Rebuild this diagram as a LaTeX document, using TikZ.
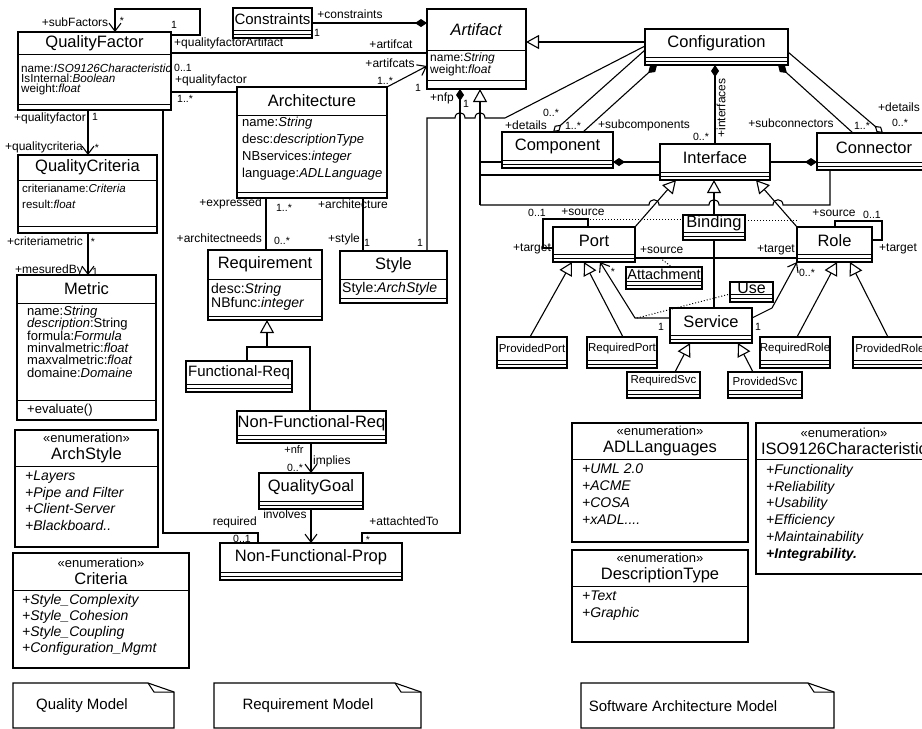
\documentclass[tikz,border=0pt]{standalone}
\usepackage{fontspec}
\setmainfont{Liberation Sans}
\usetikzlibrary{arrows.meta}

\newcommand{\fsl}[2]{\fontsize{#1}{#2}\selectfont}
% class box: title and two empty compartments
\newcommand{\plaincls}[7]{%
  \node[box,anchor=north west,minimum width={#4-#2},minimum height={#5-#3}] (#1) at (#2,#3) {};
  \draw[line width=0.8pt] ({#2},{#5-8}) -- ({#4},{#5-8});
  \draw[line width=0.8pt] ({#2},{#5-4}) -- ({#4},{#5-4});
  \node[font=\fsl{#6}{#6},inner sep=0pt] (#1-t) at ({(#2+#4)/2},{(#3+#5-8)/2}) {#7};
}
% class box: title, attributes, operations
\newcommand{\attrcls}[8]{%
  \node[box,anchor=north west,minimum width={#4-#2},minimum height={#5-#3}] (#1) at (#2,#3) {};
  \draw[line width=0.9pt] ({#2},{#6}) -- ({#4},{#6});
  \draw[line width=0.9pt] ({#2},{#7}) -- ({#4},{#7});
  \node[ttl] (#1-t) at ({(#2+#4)/2},{(#3+#6)/2}) {#8};
}
\newcommand{\enumttl}[1]{{\fsl{13}{17}«enumeration»}\\#1}

\begin{document}
\begin{tikzpicture}[x=1pt,y=-1pt,
  box/.style={draw,fill=white,line width=1.1pt,inner sep=0pt,outer sep=0pt},
  ttl/.style={font=\fsl{16.5}{17},align=center,inner sep=0pt},
  attr/.style={anchor=north west,align=left,inner sep=0pt},
  lbl/.style={font=\fsl{12}{12},inner sep=0pt},
  mult/.style={font=\fsl{10.5}{10.5},inner sep=0pt},
  assoc/.style={line width=1.1pt},
  nav/.style={assoc,-{Straight Barb[length=8pt,width=12pt]}},
  gen/.style={assoc,-{Triangle[open,length=13pt,width=14pt]}},
  compo/.style={assoc,{Diamond[length=12pt,width=8pt]}-},
  aggr/.style={assoc,{Diamond[open,length=11pt,width=7pt]}-},
  dots/.style={dotted,line width=1pt},
  note/.style={line width=1.1pt,fill=white}]
\useasboundingbox (0,0) rectangle (922,729);
\clip (0,0) rectangle (922,729);

% quality model
\attrcls{qf}{18}{32}{171}{110}{54}{104}{QualityFactor}
\node[attr,font=\fsl{11.7}{10}] (qf-a) at (21,64) {name:\textit{ISO9126Characteristic}\\IsInternal:\textit{Boolean}\\weight:\textit{float}};
\attrcls{qc}{18}{155}{157}{233}{180}{226}{QualityCriteria}
\node[attr,font=\fsl{11.5}{16}] (qc-a) at (22,184) {criterianame:\textit{Criteria}\\result:\textit{float}};
\attrcls{metric}{17}{275}{156}{420}{303}{400}{Metric}
\node[attr,font=\fsl{13}{12.3}] (metric-a) at (27,306) {name:\textit{String}\\\textit{description}:String\\formula:\textit{Formula}\\minvalmetric:\textit{float}\\maxvalmetric:\textit{float}\\domaine:\textit{Domaine}};
\node[attr,font=\fsl{13}{13}] (metric-o) at (27,404) {+evaluate()};
\attrcls{archstyle}{15}{430}{158}{547}{466}{547}{\enumttl{ArchStyle}}
\node[attr,font=\fsl{14}{16.5}\itshape] (archstyle-a) at (25,471) {+Layers\\+Pipe and Filter\\+Client-Server\\+Blackboard..};
\attrcls{criteria}{13}{553}{189}{668}{590}{668}{\enumttl{Criteria}}
\node[attr,font=\fsl{14}{16}\itshape] (criteria-a) at (22,594) {+Style\_Complexity\\+Style\_Cohesion\\+Style\_Coupling\\+Configuration\_Mgmt};

% requirement model
\plaincls{constr}{233}{8}{312}{38}{15}{Constraints}
\attrcls{artifact}{427}{9}{526}{89}{50}{80}{\textit{Artifact}}
\node[attr,font=\fsl{12}{11.5}] (artifact-a) at (430,53) {name:\textit{String}\\weight:\textit{float}};
\attrcls{arch}{237}{87}{387}{198}{115}{192}{Architecture}
\node[attr,font=\fsl{13}{17}] (arch-a) at (242,117) {name:\textit{String}\\desc:\textit{descriptionType}\\NBservices:\textit{integer}\\language:\textit{ADLLanguage}};
\attrcls{req}{208}{250}{322}{320}{279}{316}{Requirement}
\node[attr,font=\fsl{14}{13}] (req-a) at (211,283) {desc:\textit{String}\\NBfunc:\textit{integer}};
\attrcls{style}{340}{251}{447}{303}{279}{298}{Style}
\node[attr,font=\fsl{14}{14}] (style-a) at (342,282) {Style:\textit{ArchStyle}};
\plaincls{freq}{186}{361}{292}{392}{15}{Functional-Req}
\plaincls{nfreq}{237}{411}{386}{443}{16.5}{Non-Functional-Req}
\plaincls{qgoal}{259}{473}{363}{509}{16.5}{QualityGoal}
\plaincls{nfprop}{220}{543}{402}{580}{16.5}{Non-Functional-Prop}

% architecture model
\plaincls{config}{645}{29}{788}{65}{16.5}{Configuration}
\plaincls{comp}{502}{132}{613}{168}{16.5}{Component}
\plaincls{iface}{660}{144}{770}{180}{16.5}{Interface}
\plaincls{conn}{817}{133}{931}{170}{16.5}{Connector}
\plaincls{port}{553}{227}{635}{262}{16.5}{Port}
\plaincls{role}{797}{227}{872}{262}{16.5}{Role}
\plaincls{bind}{683}{215}{745}{240}{16.5}{Binding}
\plaincls{attach}{626}{267}{702}{289}{14.5}{Attachment}
\plaincls{use}{730}{282}{773}{302}{16}{Use}
\plaincls{svc}{670}{308}{752}{343}{16.5}{Service}
\plaincls{pport}{497}{337}{567}{368}{11.5}{ProvidedPort}
\plaincls{rport}{587}{337}{657}{368}{11.5}{RequiredPort}
\plaincls{rsvc}{627}{372}{700}{398}{11.5}{RequiredSvc}
\plaincls{psvc}{728}{372}{802}{398}{11.5}{ProvidedSvc}
\plaincls{rrole}{760}{337}{830}{368}{11.5}{RequiredRole}
\plaincls{prole}{853}{337}{927}{368}{11.5}{ProvidedRole}
\attrcls{adl}{572}{423}{748}{542}{459}{542}{\enumttl{ADLLanguages}}
\node[attr,font=\fsl{14}{17}\itshape] (adl-a) at (582,464) {+UML 2.0\\+ACME\\+COSA\\+xADL....};
\attrcls{desct}{572}{550}{748}{642}{586}{642}{\enumttl{DescriptionType}}
\node[attr,font=\fsl{14}{17}\itshape] (desct-a) at (582,591) {+Text\\+Graphic};
\attrcls{iso}{756}{423}{932}{574}{459}{574}{\enumttl{ISO9126Characteristic}}
\node[attr,font=\fsl{14}{16.8}\itshape] (iso-a) at (766,464) {+Functionality\\+Reliability\\+Usability\\+Efficiency\\+Maintainability\\\textbf{+Integrability.}};

% notes
\draw[note] (13,683) -- (148,683) -- (174,692) -- (174,728) -- (13,728) -- cycle;
\draw[line width=1pt] (148,683) -- (154,692) -- (174,692);
\node[font=\fsl{15}{15}] (qmnote) at (82,706) {Quality Model};
\draw[note] (214,683) -- (395,683) -- (421,692) -- (421,728) -- (214,728) -- cycle;
\draw[line width=1pt] (395,683) -- (401,692) -- (421,692);
\node[font=\fsl{15}{15}] (rmnote) at (308,706) {Requirement Model};
\draw[note] (581,683) -- (808,683) -- (834,692) -- (834,728) -- (581,728) -- cycle;
\draw[line width=1pt] (808,683) -- (814,692) -- (834,692);
\node[font=\fsl{15}{15}] (swnote) at (683,706) {Software Architecture Model};

% quality model links
\draw[nav] (qf.north east |- 0,35) -| (200,9) -| (qf.north -| 115,0);
\draw[nav] (qf.south -| 88,0) -- (qc.north -| 88,0);
\draw[nav] (qc.south -| 88,0) -- (metric.north -| 88,0);
\draw[assoc] (qf.east |- 0,53) -- (artifact.west |- 0,53);
\draw[assoc] (qf.east |- 0,92) -- (arch.west |- 0,92);
\draw[assoc] (qf.south -| 163,0) -- (163,533) -| (nfprop.north -| 258,0);

% requirement model links
\draw[compo] (artifact.west |- 0,23) -- (constr.east |- 0,23);
\draw[aggr,-{Straight Barb[length=8pt,width=12pt]}] (arch.north east) -- (artifact.west |- 0,66);
\draw[assoc] (arch.south -| 266,0) -- (req.north -| 266,0);
\draw[assoc] (arch.south -| 363,0) -- (style.north -| 363,0);
\draw[gen] (267,347) -- (req.south -| 267,0);
\draw[assoc] (freq.north -| 247,0) |- (310,347) -- (nfreq.north -| 310,0);
\draw[nav] (nfreq.south -| 311,0) -- (qgoal.north -| 311,0);
\draw[nav] (qgoal.south -| 311,0) -- (nfprop.north -| 311,0);
\draw[compo] (artifact.south -| 460,0) -- (460,533) -| (nfprop.north -| 362,0);

% architecture model links
\draw[gen] (config.west |- 0,42) -- (artifact.east |- 0,42);
\draw[assoc] (config.west |- 0,46) -- (505,118) -- (485,118) .. controls (485,111) and (475,111) .. (475,118) -- (465,118) .. controls (465,111) and (455,111) .. (455,118) -- (427,118) -- (style.north -| 427,0);
\draw[aggr] (comp.north -| 553,0) -- (config.west |- 0,50);
\draw[compo] (config.south -| 657,0) -- (comp.north -| 583,0);
\draw[compo] (config.south -| iface.north) -- (iface.north);
\draw[aggr] (conn.north -| 883,0) -- (config.east |- 0,52);
\draw[compo] (config.south -| 778,0) -- (conn.north -| 853,0);
\draw[compo] (comp.east |- 0,162) -- (iface.west |- 0,162);
\draw[compo] (conn.west |- 0,162) -- (iface.east |- 0,162);
\draw[gen] (480,205) -- (artifact.south -| 480,0);
\draw[assoc] (480,162) -- (comp.west |- 0,162);
\draw[assoc] (480,175) -- (iface.west |- 0,175);
\draw[assoc] (480,205) -- (649,205) .. controls (649,198) and (659,198) .. (659,205) -- (709,205) .. controls (709,198) and (719,198) .. (719,205) -- (773,205) .. controls (773,198) and (783,198) .. (783,205) -- (830,205) -- (conn.south -| 830,0);
\draw[gen] (port.north east) -- (iface.south -| 676,0);
\draw[gen] (role.north west) -- (iface.south -| 756,0);
\draw[gen] (bind.north) -- (bind.north |- iface.south);
\draw[assoc] (bind.south) -- (bind.south |- svc.north);
\draw[assoc] (port.north -| 588,0) |- (543,219) |- (port.west |- 0,248);
\draw[assoc] (role.north -| 835,0) |- (882,221) |- (role.east |- 0,240);
\draw[dots] (590,219) -- (bind.west |- 0,219);
\draw[dots] (bind.east |- 0,220) -- (797,220);
\draw[assoc] (port.east |- 0,258) -- (role.west |- 0,258);
\draw[dots] (660,258) -- (attach.north -| 672,0);
\draw[nav] (svc.west |- 0,318) -- (635,318) -- (port.south -| 600,0);
\draw[nav] (svc.east |- 0,318) -- (772,308) -- (role.south west);
\draw[dots] (637,318) -- (use.west |- 0,294);
\draw[dots] (use.south east) -- (773,308);
\draw[gen] (pport.north -| 530,0) -- (port.south -| 572,0);
\draw[gen] (rport.north -| 623,0) -- (port.south -| 584,0);
\draw[gen] (rsvc.north -| 675,0) -- (svc.south -| 690,0);
\draw[gen] (psvc.north -| 753,0) -- (svc.south -| 738,0);
\draw[gen] (rrole.north -| 797,0) -- (role.south -| 837,0);
\draw[gen] (prole.north -| 888,0) -- (role.south -| 850,0);

% labels
\node[lbl] (lsubf) at (75,22) {+subFactors};
\node[mult] (msubf) at (122,21) {*};
\node[mult] (msubf1) at (174,25) {1};
\node[lbl,anchor=west] (lqfa) at (174,43) {+qualityfactorArtifact};
\node[mult,anchor=west] (mqfa) at (174,68) {0..1};
\node[lbl,anchor=west] (lqfarch) at (175,80) {+qualityfactor};
\node[mult,anchor=west] (mqfarch) at (177,99) {1..*};
\node[lbl,anchor=east] (lqfqc) at (86,118) {+qualityfactor};
\node[mult] (mqfqc) at (95,117) {1};
\node[lbl,anchor=east] (lqcqf) at (83,147) {+qualitycriteria};
\node[mult] (mqcqf) at (97,148) {*};
\node[lbl,anchor=east] (lqcm) at (83,241) {+criteriametric};
\node[mult] (mqcm) at (93,242) {*};
\node[lbl,anchor=east] (lmqc) at (83,270) {+mesuredBy};
\node[mult] (mmqc) at (95,272) {1};
\node[lbl] (lcons) at (350,14) {+constraints};
\node[mult] (mcons) at (317,33) {1};
\node[lbl] (lart1) at (391,44) {+artifcat};
\node[lbl] (lart2) at (390,63) {+artifcats};
\node[mult] (march) at (385,81) {1..*};
\node[mult] (mart) at (418,88) {1};
\node[lbl] (lnfp) at (442,98) {+nfp};
\node[mult] (mnfp) at (466,104) {1};
\node[lbl,anchor=east] (lexpr) at (262,203) {+expressed};
\node[mult] (mexpr) at (284,208) {1..*};
\node[lbl,anchor=east] (lneeds) at (262,238) {+architectneeds};
\node[mult] (mneeds) at (282,241) {0..*};
\node[lbl] (larchi) at (353,204) {+architecture};
\node[lbl] (lstyle) at (344,239) {+style};
\node[mult] (mstyle) at (367,243) {1};
\node[mult] (mstyle2) at (420,243) {1};
\node[font=\fsl{11}{11},inner sep=0pt] (lnfr) at (294,450) {+nfr};
\node[mult] (mnfr) at (295,468) {0..*};
\node[lbl,anchor=west] (limpl) at (313,461) {implies};
\node[lbl] (linv) at (285,514) {involves};
\node[lbl,anchor=east] (lreq) at (257,522) {required};
\node[mult] (mreq) at (242,539) {0..1};
\node[lbl] (latt) at (404,521) {+attachtedTo};
\node[mult] (matt) at (368,540) {*};
\node[lbl] (ldet1) at (526,125) {+details};
\node[mult] (mdet1) at (551,113) {0..*};
\node[mult] (msubc) at (573,126) {1..*};
\node[lbl,anchor=west] (lsubc) at (598,125) {+subcomponents};
\node[lbl,rotate=90] (lint) at (721,108) {+interfaces};
\node[mult] (mint) at (701,137) {0..*};
\node[lbl] (lsubk) at (791,123) {+subconnectors};
\node[mult] (msubk) at (862,126) {1..*};
\node[lbl] (ldet2) at (899,107) {+details};
\node[mult] (mdet2) at (900,123) {0..*};
\node[mult] (mpsrc) at (537,213) {0..1};
\node[lbl] (lpsrc) at (583,212) {+source};
\node[lbl] (lptgt) at (532,249) {+target};
\node[lbl,anchor=west] (lasrc) at (640,250) {+source};
\node[lbl,anchor=east] (latgt) at (795,250) {+target};
\node[mult] (mport) at (613,272) {*};
\node[lbl] (lrsrc) at (834,213) {+source};
\node[mult] (mrsrc) at (872,215) {0..1};
\node[lbl] (lrtgt) at (898,249) {+target};
\node[mult] (mrole) at (807,273) {0..*};
\node[mult] (msvc1) at (661,327) {1};
\node[mult] (msvc2) at (758,327) {1};
\end{tikzpicture}
\end{document}
